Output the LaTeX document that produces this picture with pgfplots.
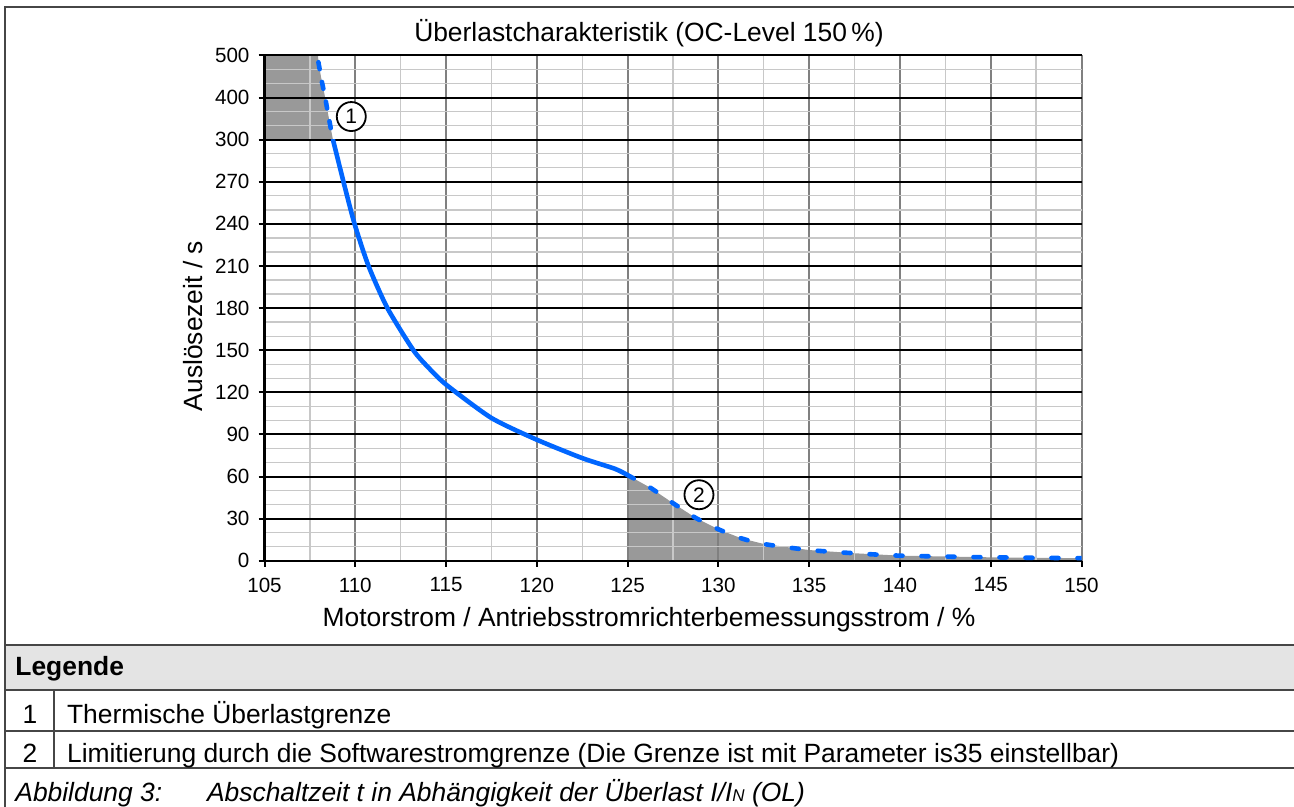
\documentclass[border=0pt]{standalone}
\usepackage{pgfplots}
\pgfplotsset{compat=1.18}
\usepackage{fontspec}
\setmainfont{Liberation Sans}
\definecolor{curveblue}{RGB}{0,102,255}
\definecolor{fillgray}{RGB}{153,153,153}
\definecolor{framec}{RGB}{70,70,70}
\definecolor{legbg}{RGB}{228,228,228}
\definecolor{majx}{RGB}{128,128,128}
\definecolor{minc}{RGB}{200,200,200}
\tikzset{
  thick curve/.style={curveblue, line width=2.3pt, line cap=round, smooth, tension=0.4},
  circ/.style={circle, draw=black, line width=0.9pt, fill=white, inner sep=0pt, minimum size=14.5pt, font=\fontsize{10.5}{12}\selectfont},
  big/.style={font=\fontsize{13.2}{15}\selectfont},
}
\pgfplotsset{
  ovl/.style={
    scale only axis, width=408.5pt,
    set layers,
    xmin=105, xmax=150,
    xtick={105,110,115,120,125,130,135,140,145,150},
    minor xtick={107.5,112.5,117.5,122.5,127.5,132.5,137.5,142.5,147.5},
    grid=both,
    major x grid style={draw=majx, line width=1pt},
    major y grid style={draw=black, line width=1pt},
    minor x grid style={draw=minc, line width=0.65pt},
    minor y grid style={draw=minc, line width=0.65pt},
    axis x line*=bottom, axis y line*=left,
    axis line style={-, black, line width=1.1pt},
    tick align=outside,
    major tick length=3pt, minor tick length=0pt,
    tick style={black, line width=1pt},
    ticklabel style={font=\fontsize{10.3}{12}\selectfont},
    xticklabel style={yshift=-2pt},
    yticklabel style={xshift=-1pt},
    clip=true,
  },
}
\begin{document}
\begin{tikzpicture}[x=0.5pt,y=-0.5pt]
\fill[legbg] (5,645) rectangle (1294,690);
% lower part: 0 ... 300 s
\begin{axis}[ovl,
  at={(132.25pt,-280.35pt)}, anchor=south west,
  height=210.5pt,
  ymin=0, ymax=300,
  xticklabels={105,110,115,120,125,130,135,140,145,150},
  ytick={0,30,60,90,120,150,180,210,240,270,300},
  yticklabels={0,30,60,90,120,150,180,210,240,270,300},
  minor ytick={10,20,40,50,70,80,100,110,130,140,160,170,190,200,220,230,250,260,280,290},
]
\addplot[fill=fillgray, draw=none, on layer=axis background] coordinates {
 (125,0) (125,61) (126.25,52) (127.5,41) (128.75,30.5) (130,22.4) (131.25,16) (132.5,11.9) (135,7.6) (137.5,5.3) (140,3.6) (145,2.4) (150,1.8) (150,0) (125,0)};
\addplot[thick curve] coordinates {
 (108.77,300) (109.35,270) (109.96,240) (110.73,210) (111.77,180) (113.2,150) (114,138) (115,125.5) (117.5,101.7) (120,86.2) (122.5,73.1) (124.3,65.5) (125,61)};
\addplot[thick curve, dash pattern=on 3.5pt off 9.5pt] coordinates {
 (125,61) (126.25,52) (127.5,41) (128.75,30.5) (130,22.4) (131.25,16) (132.5,11.9) (135,7.6) (137.5,5.3) (140,3.6) (145,2.4) (150,1.8)};
\node[circ] at (axis cs:128.93,47) {2};
\end{axis}
% upper part: 300 ... 500 s
\begin{axis}[ovl,
  at={(132.25pt,-69.85pt)}, anchor=south west,
  height=42.1pt,
  ymin=300, ymax=500,
  xticklabels={},
  xtick style={draw=none},
  ytick={400,500},
  yticklabels={400,500},
  minor ytick={333.33,366.67,433.33,466.67},
]
\addplot[fill=fillgray, draw=none, on layer=axis background] coordinates {
 (105,300) (105,500) (107.95,500) (107.97,484) (108.15,440) (108.34,400) (108.55,350) (108.77,300) (105,300)};
\addplot[thick curve, dash pattern=on 3.5pt off 6.5pt] coordinates {
 (107.97,484) (108.15,440) (108.34,400) (108.55,350) (108.77,300)};
\node[circ] at (axis cs:109.78,355) {1};
\end{axis}
% titles and labels
\node[big, anchor=base] at (649,42) {Überlastcharakteristik (OC-Level 150\,\%)};
\node[big, rotate=90, anchor=base] at (202,326) {Auslösezeit / s};
\node[big, anchor=base] at (649,626.5) {Motorstrom / Antriebsstromrichterbemessungsstrom / \%};
% table frame
\draw[framec, line width=1pt] (5,807) -- (5,7) -- (1294,7);
\draw[framec, line width=1pt] (5,645) -- (1294,645);
\draw[framec, line width=1.2pt] (5,690) -- (1294,690);
\draw[framec, line width=1pt] (5,730.5) -- (1294,730.5);
\draw[framec, line width=1pt] (5,768) -- (1294,768);
\draw[framec, line width=1pt] (54,690) -- (54,768);
\node[big, anchor=base west, inner sep=0pt, font=\fontsize{13.2}{15}\selectfont\bfseries] at (15,675.5) {Legende};
\node[big, anchor=base, inner sep=0pt] at (30,723.5) {1};
\node[big, anchor=base west, inner sep=0pt] at (66.7,723.5) {Thermische Überlastgrenze};
\node[big, anchor=base, inner sep=0pt] at (30,762) {2};
\node[big, anchor=base west, inner sep=0pt] at (66.7,762) {Limitierung durch die Softwarestromgrenze (Die Grenze ist mit Parameter is35 einstellbar)};
\node[big, anchor=base west, inner sep=0pt, font=\fontsize{13.2}{15}\selectfont\itshape] at (15,801) {Abbildung 3:};
\node[big, anchor=base west, inner sep=0pt, font=\fontsize{13.2}{15}\selectfont\itshape] at (206.7,801) {Abschaltzeit t in Abhängigkeit der Überlast I/I{\fontsize{8.5}{9}\selectfont N} (OL)};
\pgfresetboundingbox
\path[use as bounding box] (0,0) rectangle (1294,807);
\end{tikzpicture}
\end{document}
